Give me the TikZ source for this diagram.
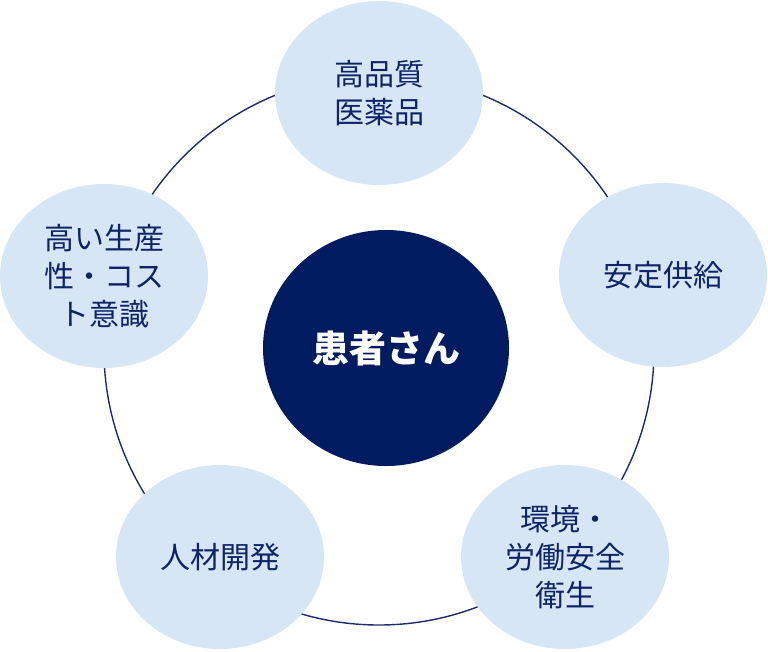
\documentclass[tikz,border=0pt]{standalone}
\usepackage{fontspec}
\setmainfont{Noto Sans CJK JP}
\usetikzlibrary{shapes.geometric}
\definecolor{lightblue}{HTML}{D6E6F5}
\definecolor{navy}{HTML}{001B5F}
\definecolor{textnavy}{HTML}{0F2466}
\definecolor{ringcol}{HTML}{1E2C6B}
\tikzset{
  outer/.style={ellipse, fill=lightblue, minimum width=208pt, minimum height=184pt, inner sep=0pt,
    text=textnavy, align=center, font=\fontsize{30}{38}\selectfont},
  core/.style={ellipse, fill=navy, minimum width=246pt, minimum height=236pt, inner sep=0pt,
    text=white, font=\fontsize{37}{40}\selectfont\bfseries},
  ringline/.style={draw=ringcol, line width=1.4pt}
}
\begin{document}
\begin{tikzpicture}[x=1pt,y=-1pt]
\useasboundingbox (0,0) rectangle (768,651);
\coordinate (ringc) at (379,350);
\draw[ringline] (ringc) circle[radius=275pt];
\node[outer] (top) at (379,93) {高品質\\医薬品};
\node[outer] (right) at (663,275) {安定供給};
\node[outer] (left) at (104,276) {高い生産\\性・コス\\ト意識};
\node[outer] (bl) at (220,557) {人材開発};
\node[outer] (br) at (565,557) {環境・\\労働安全\\衛生};
\node[core] (center) at (386,348) {患者さん};
\end{tikzpicture}
\end{document}
